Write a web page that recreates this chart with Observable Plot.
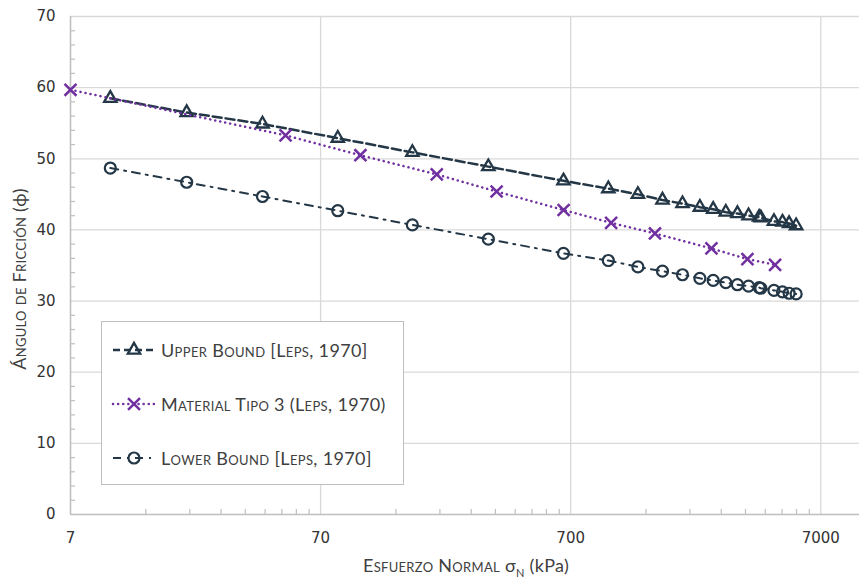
<!DOCTYPE html>
<html><head><meta charset="utf-8">
<script src="https://cdn.jsdelivr.net/npm/d3@7"></script>
<script src="https://cdn.jsdelivr.net/npm/@observablehq/plot@0.6"></script>
<style>
body{margin:0;background:#fff;}
#wrap{position:relative;width:859px;height:581px;overflow:hidden;background:#fff;}
.ttl{position:absolute;font-family:Lato,"Open Sans",sans-serif;font-variant:small-caps;color:#404040;white-space:nowrap;font-size:18px;line-height:1;letter-spacing:0.3px;}
.nv{font-variant:normal;}
#xtitle{left:0;width:932px;top:556px;text-align:center;}
#ytitle{left:19px;top:279px;transform:translate(-50%,-50%) rotate(-90deg);}
#legend{position:absolute;left:101px;top:321px;width:303px;height:164px;border:1.3px solid #bfbfbf;background:#fff;box-sizing:border-box;}
.item{position:absolute;left:9px;height:20px;display:flex;align-items:center;}
.item svg{flex:none;}
.item span{font-family:Lato,"Open Sans",sans-serif;font-variant:small-caps;color:#404040;font-size:18px;margin-left:4px;white-space:nowrap;letter-spacing:0.35px;}
</style></head>
<body><div id="wrap"></div>
<script>
// ---- data ----
const stressBounds = [10.1, 20.4, 41, 82, 163, 328, 655, 990, 1300, 1630, 1960, 2300, 2600, 2920, 3250, 3600, 3970, 4030, 4550, 4920, 5230, 5580];
const upperPhi = [58.5, 56.5, 54.9, 52.9, 50.9, 48.9, 46.9, 45.8, 45.0, 44.2, 43.7, 43.2, 42.9, 42.5, 42.3, 42.0, 41.8, 41.7, 41.2, 41.1, 40.9, 40.6];
const lowerPhi = [48.7, 46.7, 44.7, 42.7, 40.7, 38.7, 36.7, 35.7, 34.8, 34.2, 33.7, 33.2, 32.9, 32.6, 32.3, 32.1, 31.9, 31.8, 31.5, 31.3, 31.1, 31.0];
const stressTipo3 = [7, 50.7, 101, 204, 354, 656, 1016, 1521, 2558, 3563, 4597];
const tipo3Phi = [59.7, 53.3, 50.5, 47.8, 45.4, 42.8, 41.0, 39.5, 37.4, 35.9, 35.1];
const xTicks = [7, 70, 700, 7000];
const xMinorTicks = [14, 21, 28, 35, 42, 49, 56, 63, 140, 210, 280, 350, 420, 490, 560, 630, 1400, 2100, 2800, 3500, 4200, 4900, 5600, 6300];
const yTicks = [0, 10, 20, 30, 40, 50, 60, 70];
const yMinorTicks = [2, 4, 6, 8, 12, 14, 16, 18, 22, 24, 26, 28, 32, 34, 36, 38, 42, 44, 46, 48, 52, 54, 56, 58, 62, 64, 66, 68];
const seriesNames = ["Upper Bound [Leps, 1970]", "Material Tipo 3 (Leps, 1970)", "Lower Bound [Leps, 1970]"];

// ---- styles ----
const dark = "#243746", purple = "#7030a0", grid = "#d9d9d9", axisCol = "#bfbfbf";
const upper = stressBounds.map((x, i) => ({x, y: upperPhi[i]}));
const lower = stressBounds.map((x, i) => ({x, y: lowerPhi[i]}));
const tipo3 = stressTipo3.map((x, i) => ({x, y: tipo3Phi[i]}));

const chart = Plot.plot({
  width: 859, height: 581,
  marginLeft: 70, marginRight: 0, marginTop: 16, marginBottom: 67,
  style: {fontFamily: "'DejaVu Sans', sans-serif", fontSize: "15px", color: "#333", background: "white", overflow: "visible"},
  x: {type: "log", domain: [7, 10000]},
  y: {domain: [0, 70]},
  marks: [
    Plot.gridX(xTicks.slice(1), {stroke: grid, strokeOpacity: 1, strokeWidth: 1.3}),
    Plot.gridY(yTicks.slice(1), {stroke: grid, strokeOpacity: 1, strokeWidth: 1.3}),
    Plot.ruleY([0], {stroke: axisCol, strokeWidth: 1.6}),
    Plot.ruleX([7], {stroke: axisCol, strokeWidth: 1.6}),
    Plot.axisX(xMinorTicks, {tickSize: 5, dy: -5, fill: "none", stroke: axisCol, strokeWidth: 1.2, label: null}),
    Plot.axisY(yMinorTicks, {tickSize: 5, dx: 5, fill: "none", stroke: axisCol, strokeWidth: 1.2, label: null}),
    Plot.text(xTicks, {x: d => d, text: d => String(d), frameAnchor: "bottom", lineAnchor: "top", dy: 18, fill: "#333", fontSize: 15}),
    Plot.axisY(yTicks, {tickSize: 0, tickPadding: 15, label: null, fill: "#333"}),
    Plot.line(lower, {x: "x", y: "y", stroke: dark, strokeWidth: 2, strokeDasharray: "8,6,2,6"}),
    Plot.dot(lower, {x: "x", y: "y", symbol: "circle", r: 5.5, stroke: dark, strokeWidth: 2.2, fill: "none"}),
    Plot.line(upper, {x: "x", y: "y", stroke: dark, strokeWidth: 2.5, strokeDasharray: "9,4"}),
    Plot.dot(upper, {x: "x", y: "y", symbol: "triangle", r: 4.6, stroke: dark, strokeWidth: 2.3, fill: "none"}),
    Plot.line(tipo3, {x: "x", y: "y", stroke: purple, strokeWidth: 2.5, strokeDasharray: "0.1,5", strokeLinecap: "round"}),
    Plot.dot(tipo3, {x: "x", y: "y", symbol: "times", r: 5.5, stroke: purple, strokeWidth: 2.5})
  ]
});
const wrap = document.getElementById("wrap");
wrap.appendChild(chart);

// axis titles
const xt = document.createElement("div");
xt.id = "xtitle"; xt.className = "ttl";
xt.innerHTML = `Esfuerzo Normal <span class="nv">σ</span><sub style="font-size:11px">N</sub> <span class="nv">(kPa)</span>`;
wrap.appendChild(xt);
const yt = document.createElement("div");
yt.id = "ytitle"; yt.className = "ttl";
yt.innerHTML = `Ángulo de Fricción <span class="nv">(ϕ)</span>`;
wrap.appendChild(yt);

// legend
const legend = document.createElement("div");
legend.id = "legend";
wrap.appendChild(legend);
const legendStyles = [
  {stroke: dark, width: 2.5, dash: "7,4", symbol: d3.symbolTriangle, size: 66, sw: 2.3},
  {stroke: purple, width: 2.5, dash: "0.1,5", cap: "round", symbol: d3.symbolTimes, size: 95, sw: 2.5},
  {stroke: dark, width: 2, dash: "8,6,2,6", symbol: d3.symbolCircle, size: 95, sw: 2.2}
];
const tops = [18, 72, 126];
seriesNames.forEach((name, i) => {
  const s = legendStyles[i];
  const item = document.createElement("div");
  item.className = "item";
  item.style.top = tops[i] + "px";
  const svg = d3.create("svg").attr("width", 46).attr("height", 20);
  svg.append("line").attr("x1", 2).attr("x2", 46).attr("y1", 10).attr("y2", 10)
    .attr("stroke", s.stroke).attr("stroke-width", s.width).attr("stroke-dasharray", s.dash)
    .attr("stroke-linecap", s.cap || "butt");
  svg.append("path").attr("d", d3.symbol(s.symbol, s.size)()).attr("transform", "translate(23,10)")
    .attr("fill", "none").attr("stroke", s.stroke).attr("stroke-width", s.sw);
  item.appendChild(svg.node());
  const span = document.createElement("span");
  span.textContent = name;
  item.appendChild(span);
  legend.appendChild(item);
});
</script>
</body></html>
